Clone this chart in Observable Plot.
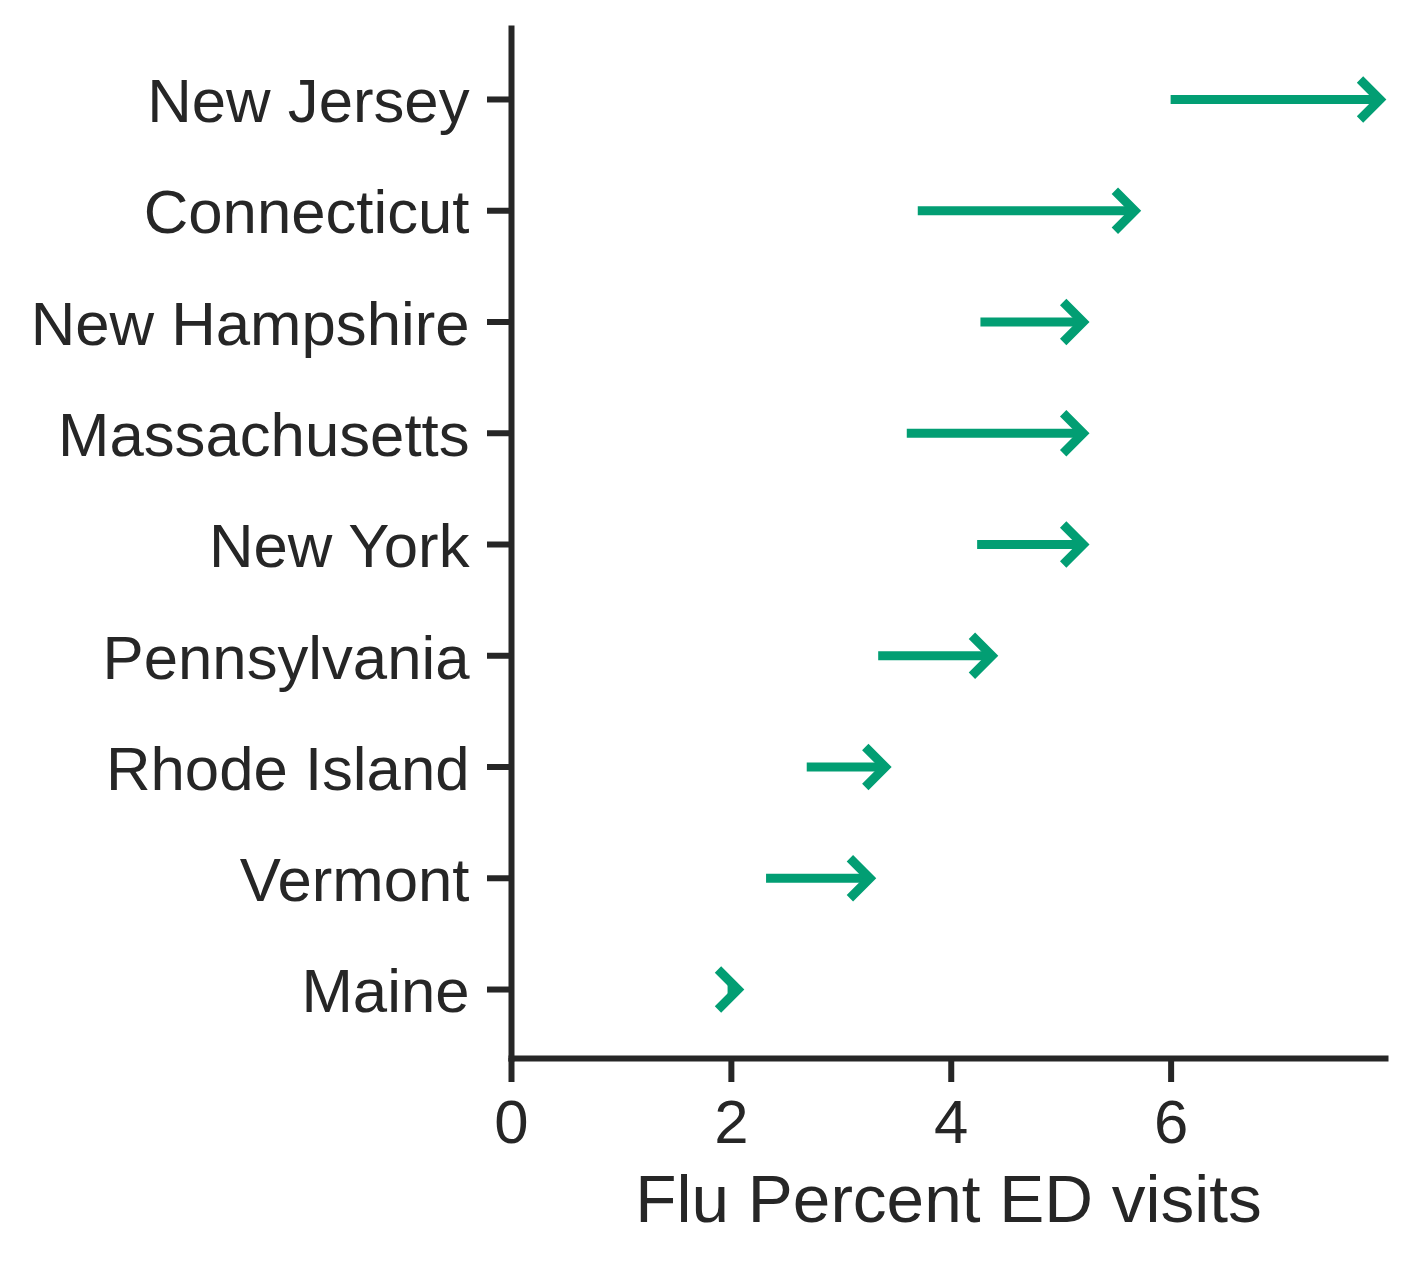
<!DOCTYPE html>
<html>
<head>
<meta charset="utf-8">
<script src="https://cdn.jsdelivr.net/npm/d3@7"></script>
<script src="https://cdn.jsdelivr.net/npm/@observablehq/plot@0.6"></script>
<style>
  html, body { margin: 0; padding: 0; background: #fff; }
  #chart svg { display: block; }
</style>
</head>
<body>
<div id="chart"></div>
<script>
const states = ["New Jersey", "Connecticut", "New Hampshire", "Massachusetts", "New York", "Pennsylvania", "Rhode Island", "Vermont", "Maine"];
const startValues = [6.00, 3.70, 4.27, 3.60, 4.24, 3.34, 2.69, 2.32, 1.97];
const endValues = [7.90, 5.67, 5.20, 5.20, 5.20, 4.37, 3.40, 3.26, 2.06];
const xTicks = [0, 2, 4, 6];
const xLabel = "Flu Percent ED visits";

const data = states.map((s, i) => ({state: s, start: startValues[i], end: endValues[i]}));

const green = "#029E73";
const ink = "#262626";

const chevron = {
  draw(context, size) {
    const r = Math.sqrt(size / Math.PI);
    context.moveTo(-r, -r);
    context.lineTo(0, 0);
    context.lineTo(-r, r);
  }
};

const chart = Plot.plot({
  width: 1414,
  height: 1264,
  marginLeft: 511,
  marginRight: 29,
  marginTop: 28,
  marginBottom: 206,
  style: {fontFamily: "'Liberation Sans', Arial, sans-serif", color: ink, background: "#fff"},
  x: {domain: [0, 7.95]},
  y: {type: "point", domain: states, padding: 0.62, round: false, insetTop: 2},
  marks: [
    Plot.ruleY(data, {y: "state", x1: "start", x2: "end", stroke: green, strokeWidth: 9}),
    Plot.dot(data, {x: "end", y: "state", symbol: chevron, r: 20, fill: "none", stroke: green, strokeWidth: 9, strokeLinejoin: "miter", strokeLinecap: "butt"}),
    Plot.frame({anchor: "left", stroke: ink, strokeWidth: 6}),
    Plot.frame({anchor: "bottom", stroke: ink, strokeWidth: 6}),
    Plot.axisY({tickSize: 24, strokeWidth: 6, tickFormat: () => "", label: null}),
    Plot.axisY({tickSize: 0, tickPadding: 42, fontSize: 61.7, label: null, dy: 3}),
    Plot.axisX({ticks: xTicks, tickSize: 24, tickPadding: 17, fontSize: 61.7, strokeWidth: 6, label: null}),
    Plot.text([xLabel], {frameAnchor: "bottom", text: d => d, dy: 163, lineAnchor: "bottom", fontSize: 67.5, fill: ink})
  ]
});
document.getElementById("chart").appendChild(chart);
</script>
</body>
</html>
